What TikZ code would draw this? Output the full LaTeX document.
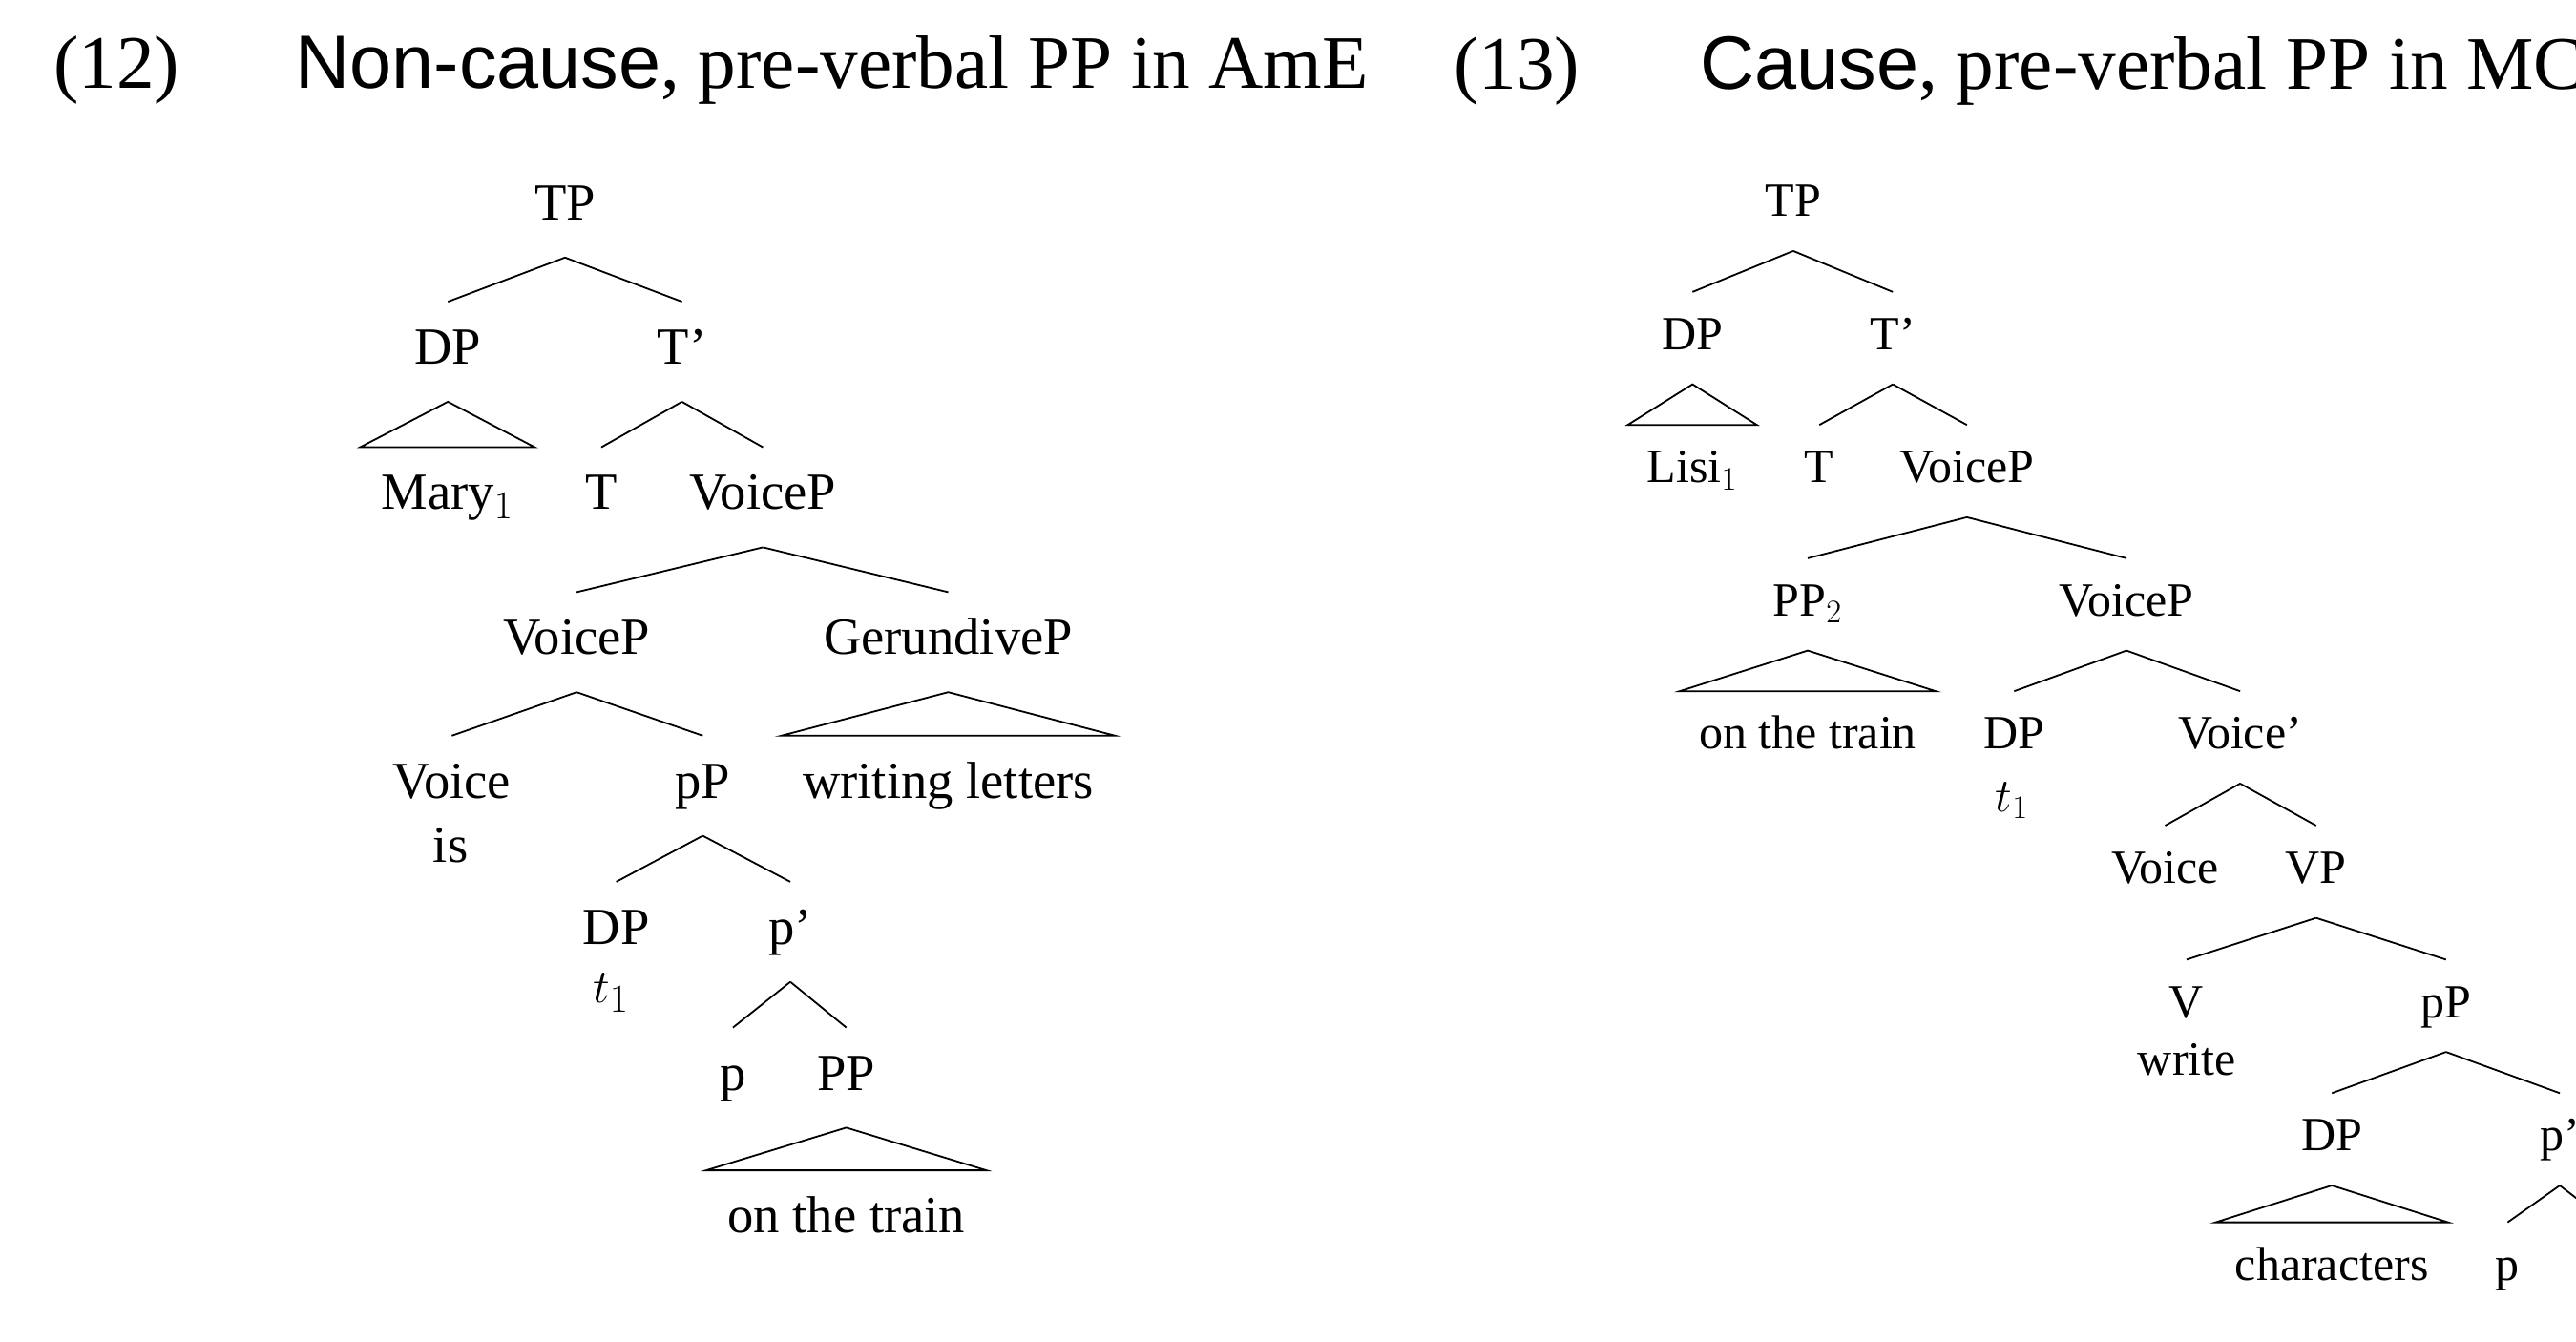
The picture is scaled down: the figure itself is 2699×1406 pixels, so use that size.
\documentclass[tikz,border=0pt]{standalone}
\usepackage{fontspec}
\setmainfont{Liberation Serif}
\setsansfont{Liberation Sans}
\begin{document}
\begin{tikzpicture}[x=0.5pt,y=-0.5pt,
  L/.style={anchor=base, inner xsep=11pt, inner ysep=0pt, text height=32.5pt, text depth=19.5pt, font=\fontsize{27.3}{32}\selectfont},
  R/.style={anchor=base, inner xsep=10pt, inner ysep=0pt, text height=30.1pt, text depth=17.85pt, font=\fontsize{25}{30}\selectfont},
  br/.style={line width=0.9pt, line join=miter},
  ttl/.style={anchor=base west, inner sep=0pt, font=\fontsize{39.6}{46}\selectfont}]
\path[use as bounding box, clip] (0,0) rectangle (2699,1406);
% titles
\node[ttl] (n12) at (56,93) {(12)};
\node[ttl] (t12) at (309,93) {\sffamily Non-cause\rmfamily, pre-verbal PP in AmE};
\node[ttl] (n13) at (1523,94) {(13)};
\node[ttl] (t13) at (1781,94) {\sffamily Cause\rmfamily, pre-verbal PP in MC};
% left tree
\node[L] (lTP) at (592,230.4) {TP};
\node[L] (lDP) at (469.3,381.5) {DP};
\node[L] (lTb) at (714.5,381.5) {T’};
\node[L] (lMary) at (468.8,534) {Mary$_1$};
\node[L] (lT) at (630,534) {T};
\node[L] (lVP) at (799.4,534) {VoiceP};
\node[L] (lVP2) at (604.2,685.8) {VoiceP};
\node[L] (lGer) at (993.5,685.8) {GerundiveP};
\node[L] (lVoice) at (473.4,836.2) {Voice};
\node[L] (lis) at (472.2,903) {is};
\node[L] (lpP) at (736.3,836.2) {pP};
\node[L] (lwrit) at (993.5,836.2) {writing letters};
\node[L] (lDP2) at (645.6,989.3) {DP};
\node[L] (lt1) at (640,1050.4) {$t_1$};
\node[L] (lpb) at (828.1,989.3) {p’};
\node[L] (lp) at (767.9,1142) {p};
\node[L] (lPP) at (886.7,1142) {PP};
\node[L] (ltrain) at (886.7,1291.5) {on the train};
\draw[br] (lTP.south) -- (lDP.north);
\draw[br] (lTP.south) -- (lTb.north);
\draw[br] (lDP.south) -- (lMary.north west) -- (lMary.north east) -- cycle;
\draw[br] (lTb.south) -- (lT.north);
\draw[br] (lTb.south) -- (lVP.north);
\draw[br] (lVP.south) -- (lVP2.north);
\draw[br] (lVP.south) -- (lGer.north);
\draw[br] (lVP2.south) -- (lVoice.north);
\draw[br] (lVP2.south) -- (lpP.north);
\draw[br] (lGer.south) -- (lwrit.north west) -- (lwrit.north east) -- cycle;
\draw[br] (lpP.south) -- (lDP2.north);
\draw[br] (lpP.south) -- (lpb.north);
\draw[br] (lpb.south) -- (lp.north);
\draw[br] (lpb.south) -- (lPP.north);
\draw[br] (lPP.south) -- (ltrain.north west) -- (ltrain.north east) -- cycle;
% right tree
\node[R] (rTP) at (1878.8,226.8) {TP};
\node[R] (rDP) at (1773.3,366.5) {DP};
\node[R] (rTb) at (1983.2,366.5) {T’};
\node[R] (rLisi) at (1773.1,505.8) {Lisi$_1$};
\node[R] (rT) at (1906.2,505.8) {T};
\node[R] (rVP) at (2060.8,505.8) {VoiceP};
\node[R] (rPP) at (1894,645.5) {PP$_2$};
\node[R] (rVP2) at (2228,645.5) {VoiceP};
\node[R] (rtrain) at (1894,784.8) {on the train};
\node[R] (rDP2) at (2110.3,784.8) {DP};
\node[R] (rt1) at (2108,850) {$t_1$};
\node[R] (rVb) at (2347.1,784.8) {Voice’};
\node[R] (rVoice) at (2268.5,925.6) {Voice};
\node[R] (rVPP) at (2426.7,925.6) {VP};
\node[R] (rV) at (2290.9,1066) {V};
\node[R] (rwrite) at (2291.3,1126.6) {write};
\node[R] (rpP) at (2562.8,1066) {pP};
\node[R] (rDP3) at (2443.2,1205.9) {DP};
\node[R] (rpb) at (2682,1205.9) {p’};
\node[R] (rchar) at (2443.2,1341.2) {characters};
\node[R] (rp) at (2627.4,1341.2) {p};
\coordinate (rPPx) at (2737,1284.3);
\draw[br] (rTP.south) -- (rDP.north);
\draw[br] (rTP.south) -- (rTb.north);
\draw[br] (rDP.south) -- (rLisi.north west) -- (rLisi.north east) -- cycle;
\draw[br] (rTb.south) -- (rT.north);
\draw[br] (rTb.south) -- (rVP.north);
\draw[br] (rVP.south) -- (rPP.north);
\draw[br] (rVP.south) -- (rVP2.north);
\draw[br] (rPP.south) -- (rtrain.north west) -- (rtrain.north east) -- cycle;
\draw[br] (rVP2.south) -- (rDP2.north);
\draw[br] (rVP2.south) -- (rVb.north);
\draw[br] (rVb.south) -- (rVoice.north);
\draw[br] (rVb.south) -- (rVPP.north);
\draw[br] (rVPP.south) -- (rV.north);
\draw[br] (rVPP.south) -- (rpP.north);
\draw[br] (rpP.south) -- (rDP3.north);
\draw[br] (rpP.south) -- (rpb.north);
\draw[br] (rDP3.south) -- (rchar.north west) -- (rchar.north east) -- cycle;
\draw[br] (rpb.south) -- (rp.north);
\draw[br] (rpb.south) -- (rPPx);
\end{tikzpicture}
\end{document}
